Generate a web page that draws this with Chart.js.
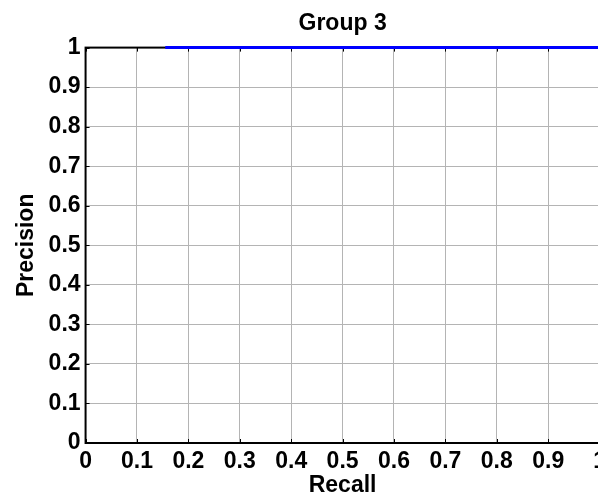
<!DOCTYPE html>
<html>
<head>
<meta charset="utf-8">
<script src="https://cdn.jsdelivr.net/npm/chart.js@4"></script>
<style>
  html, body { margin: 0; padding: 0; background: #fff; overflow: hidden; }
  #wrap { width: 598px; height: 494px; overflow: hidden; }
</style>
</head>
<body>
<div id="wrap"><canvas id="prChart" width="611" height="494"></canvas></div>
<script>
// Datos de la curva precision-recall
const recall = [0.155, 1];
const precision = [1, 1];
const xTicks = ['0', '0.1', '0.2', '0.3', '0.4', '0.5', '0.6', '0.7', '0.8', '0.9', '1'];
const yTicks = ['0', '0.1', '0.2', '0.3', '0.4', '0.5', '0.6', '0.7', '0.8', '0.9', '1'];

const fuente = 'Liberation Sans, Arial, sans-serif';

// Dibuja el marco negro del area del grafico antes de la linea
const marco = {
    id: 'marco',
    beforeDatasetsDraw(chart) {
        const { ctx, chartArea: a } = chart;
        ctx.save();
        ctx.strokeStyle = '#000';
        ctx.lineWidth = 2;
        ctx.strokeRect(a.left, a.top, a.right - a.left, a.bottom - a.top);
        // marcas de los ticks hacia dentro
        ctx.lineWidth = 1;
        const xs = chart.scales.x, ys = chart.scales.y;
        xTicks.forEach((t, i) => {
            const px = Math.round(xs.getPixelForValue(i / 10)) + 0.5;
            ctx.beginPath(); ctx.moveTo(px, a.bottom); ctx.lineTo(px, a.bottom - 4); ctx.stroke();
            ctx.beginPath(); ctx.moveTo(px, a.top); ctx.lineTo(px, a.top + 4); ctx.stroke();
        });
        yTicks.forEach((t, i) => {
            const py = Math.round(ys.getPixelForValue(i / 10)) + 0.5;
            ctx.beginPath(); ctx.moveTo(a.left, py); ctx.lineTo(a.left + 4, py); ctx.stroke();
        });
        ctx.restore();
    }
};

const ctx = document.getElementById('prChart');
new Chart(ctx.getContext('2d'), {
    type: 'line',
    data: {
        datasets: [{
            data: recall.map((r, i) => ({ x: r, y: precision[i] })),
            borderColor: '#0000ff',
            borderWidth: 3,
            pointRadius: 0,
            fill: false,
            clip: false
        }]
    },
    options: {
        responsive: false,
        animation: false,
        layout: { padding: { left: 8, right: 0, top: 0, bottom: 2 } },
        plugins: {
            legend: { display: false },
            tooltip: { enabled: false },
            title: {
                display: true,
                fullSize: false,
                text: 'Group 3',
                color: '#000',
                font: { family: fuente, size: 23, weight: 'bold' },
                padding: { top: 10, bottom: 10 }
            }
        },
        scales: {
            x: {
                type: 'linear', min: 0, max: 1,
                grid: { color: '#b4b4b4', lineWidth: 1, drawTicks: false },
                border: { display: false },
                ticks: {
                    stepSize: 0.1, padding: 5, color: '#000', maxRotation: 0, autoSkip: false,
                    font: { family: fuente, size: 23, weight: 'bold', lineHeight: 27 / 23 },
                    callback: (v, i) => xTicks[i]
                },
                title: {
                    display: true, text: 'Recall', color: '#000',
                    font: { family: fuente, size: 23, weight: 'bold', lineHeight: 12 / 23 },
                    padding: { top: 0, bottom: 0 }
                }
            },
            y: {
                type: 'linear', min: 0, max: 1,
                grid: { color: '#b4b4b4', lineWidth: 1, drawTicks: false },
                border: { display: false },
                ticks: {
                    stepSize: 0.1, padding: 5, color: '#000', autoSkip: false,
                    font: { family: fuente, size: 23, weight: 'bold' },
                    callback: (v, i) => yTicks[i]
                },
                title: {
                    display: true, text: 'Precision', color: '#000',
                    font: { family: fuente, size: 23, weight: 'bold' },
                    padding: { top: 5, bottom: 3 }
                }
            }
        }
    },
    plugins: [marco]
});
</script>
</body>
</html>
